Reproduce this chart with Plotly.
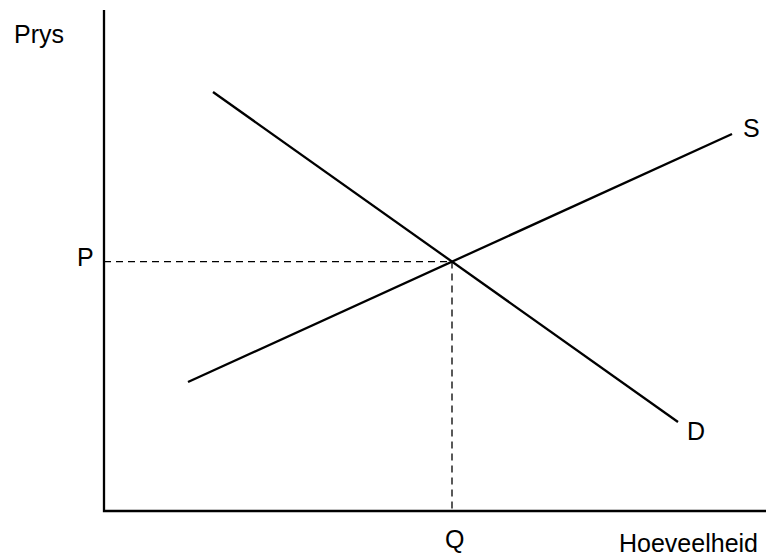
import plotly.graph_objects as go

# Data (arbitrary units)
supply_q = [84, 628]
supply_p = [129, 377]
demand_q = [109, 574]
demand_p = [419, 89]
eq_q = 348
eq_p = 249.4
axis_q_max = 662
axis_p_max = 501

labels = ["Prys", "P", "Q", "Hoeveelheid", "S", "D"]

FONT = dict(family="Liberation Sans, Arial, sans-serif", size=25, color="black")

fig = go.Figure()

# axes
fig.add_trace(go.Scatter(x=[0, 0, axis_q_max], y=[axis_p_max, 0, 0], mode="lines",
                         line=dict(color="black", width=2.3), hoverinfo="skip"))
# dashed guides
fig.add_trace(go.Scatter(x=[0, eq_q, eq_q], y=[eq_p, eq_p, 0], mode="lines",
                         line=dict(color="black", width=1.3, dash="7px,5px"), hoverinfo="skip"))
# supply
fig.add_trace(go.Scatter(x=supply_q, y=supply_p, mode="lines",
                         line=dict(color="black", width=2.3), hoverinfo="skip"))
# demand
fig.add_trace(go.Scatter(x=demand_q, y=demand_p, mode="lines",
                         line=dict(color="black", width=2.3), hoverinfo="skip"))

label_pos = [(-65, 477), (-19, 254), (350, -28), (584, -32), (647, 383), (592, 80)]
for txt, (x, y) in zip(labels, label_pos):
    fig.add_annotation(x=x, y=y, text=txt, showarrow=False, font=FONT,
                       xanchor="center", yanchor="middle")

fig.update_layout(
    width=766, height=556,
    margin=dict(l=0, r=0, t=0, b=0),
    paper_bgcolor="white", plot_bgcolor="white",
    showlegend=False,
    xaxis=dict(range=[-104, 662], visible=False, fixedrange=True),
    yaxis=dict(range=[-45, 511], visible=False, fixedrange=True),
)

fig.write_html("out.html",
               config={"displayModeBar": False},
               post_script="document.body.style.margin='0';document.body.style.overflow='hidden';")
